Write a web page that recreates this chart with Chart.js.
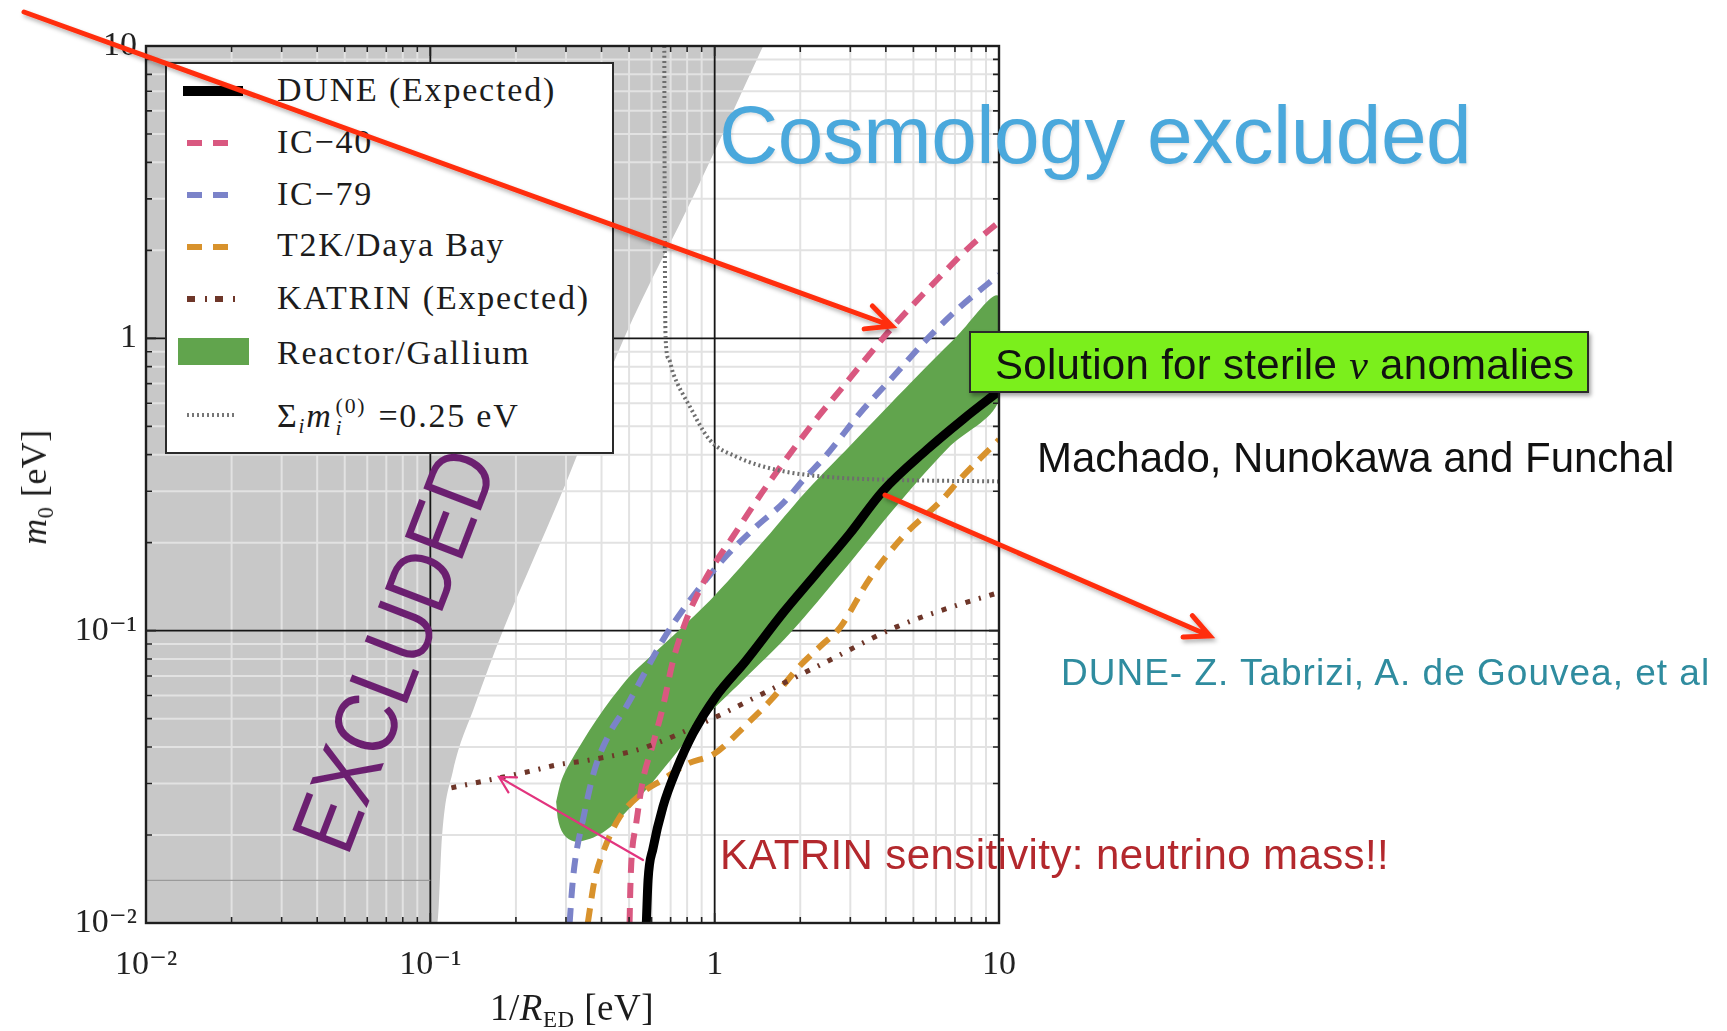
<!DOCTYPE html>
<html>
<head>
<meta charset="utf-8">
<title>Sterile neutrino / extra-dimension sensitivity</title>
<script src="https://cdn.jsdelivr.net/npm/chart.js@4.4.1/dist/chart.umd.min.js"></script>
<style>
  html, body { margin: 0; padding: 0; background: #fff; width: 1727px; height: 1031px; overflow: hidden; }
  #wrap { position: relative; width: 1727px; height: 1031px; }
  #plot { position: absolute; left: 0; top: 0; }
  .abs { position: absolute; white-space: nowrap; line-height: 1; }
  .serif { font-family: 'Liberation Serif', 'DejaVu Serif', serif; color: #1c1c1c; }
  .sans { font-family: 'Liberation Sans', Arial, Helvetica, sans-serif; }
  #legend { position: absolute; left: 165px; top: 62px; width: 449px; height: 392px; box-sizing: border-box;
            border: 2px solid #2a2a2a; background: #fff; }
  .lg { font-size: 34px; letter-spacing: 1.8px; left: 277px; }
  .ss { display: inline-block; vertical-align: -0.38em; font-size: 0.64em; line-height: 1; margin-left: 3px; margin-right: 12px; }
  .ss span { display: block; }
  sub { font-size: 0.62em; vertical-align: -0.3em; line-height: 0; }
  svg.layer { position: absolute; left: 0; top: 0; overflow: visible; }
</style>
</head>
<body>
<div id="wrap">
  <canvas id="plot" width="1727" height="1031"></canvas>

  <!-- legend -->
  <div id="legend"></div>
  <svg class="layer" width="1727" height="1031" id="legendMarks">
    <line x1="183" y1="91" x2="243" y2="91" stroke="#000" stroke-width="10"/>
    <line x1="187" y1="143" x2="230" y2="143" stroke="#d95880" stroke-width="6" stroke-dasharray="15 11"/>
    <line x1="187" y1="195" x2="230" y2="195" stroke="#7b83c9" stroke-width="6" stroke-dasharray="15 11"/>
    <line x1="187" y1="247" x2="230" y2="247" stroke="#d8922c" stroke-width="6" stroke-dasharray="15 11"/>
    <line x1="187" y1="299" x2="238" y2="299" stroke="#6e3629" stroke-width="6" stroke-dasharray="8 10 2 8"/>
    <rect x="178" y="338" width="71" height="27" fill="#61a44d"/>
    <line x1="187" y1="415" x2="237" y2="415" stroke="#777" stroke-width="4" stroke-dasharray="2 3"/>
  </svg>
  <div class="abs serif lg" style="top:73px">DUNE (Expected)</div>
  <div class="abs serif lg" style="top:125px">IC−40</div>
  <div class="abs serif lg" style="top:177px">IC−79</div>
  <div class="abs serif lg" style="top:228px">T2K/Daya Bay</div>
  <div class="abs serif lg" style="top:281px">KATRIN (Expected)</div>
  <div class="abs serif lg" style="top:336px">Reactor/Gallium</div>
  <div class="abs serif lg" style="top:396px">Σ<sub><i>i</i></sub><i>m</i><span class="ss"><span>(0)</span><span><i>i</i></span></span>=0.25 eV</div>

  <!-- axis titles -->
  <div class="abs serif" style="font-size:37px; letter-spacing:0.5px; left:572px; top:989px; transform:translateX(-50%);">1/<i>R</i><sub>ED</sub> [eV]</div>
  <div class="abs serif" style="font-size:36px; letter-spacing:0.5px; left:34px; top:487px; transform:translate(-50%,-50%) rotate(-90deg);"><i>m</i><sub>0</sub> [eV]</div>

  <!-- annotations -->
  <div class="abs sans" style="left:719px; top:94px; font-size:82px; letter-spacing:-0.5px; color:#4aa8dc; text-shadow:1px 2px 3px rgba(0,0,0,0.12);">Cosmology excluded</div>
  <div class="abs" style="left:969px; top:331px; width:620px; height:62px; box-sizing:border-box; background:#7bef1c; border:2px solid #2a2a2a; box-shadow:2px 3px 4px rgba(0,0,0,0.35);"></div>
  <div class="abs sans" style="left:995px; top:344px; font-size:42px; color:#111; letter-spacing:0.3px;">Solution for sterile <i style="font-family:'Liberation Serif',serif;">ν</i> anomalies</div>
  <div class="abs sans" style="left:1037px; top:437px; font-size:42px; color:#111;">Machado, Nunokawa and Funchal</div>
  <div class="abs sans" style="left:1061px; top:654px; font-size:37px; letter-spacing:1px; color:#2f8c9f;">DUNE- Z. Tabrizi, A. de Gouvea, et al</div>
  <div class="abs sans" style="left:720px; top:834px; font-size:42px; letter-spacing:0.4px; color:#b3282d;">KATRIN sensitivity: neutrino mass!!</div>
  <div class="abs sans" style="left:394px; top:650px; font-size:86px; color:#6b1f70; transform:translate(-50%,-50%) rotate(-69deg) scale(0.9, 1.04);">EXCLUDED</div>

  <svg class="layer" width="1727" height="1031" id="arrows">
    <defs>
      <filter id="shadow" x="-10%" y="-10%" width="120%" height="120%">
        <feDropShadow dx="2" dy="3" stdDeviation="2" flood-color="#000" flood-opacity="0.3"/>
      </filter>
    </defs>
  </svg>
</div>

<script>
// ---------------- axis ticks ----------------
const xTickValues = [0.01, 0.1, 1, 10];
const xTickLabels = ['10⁻²', '10⁻¹', '1', '10'];
const yTickValues = [0.01, 0.1, 1, 10];
const yTickLabels = ['10⁻²', '10⁻¹', '1', '10'];

// ---------------- curves (1/R_ED [eV], m0 [eV]) ----------------
const duneX = [0.575, 0.583, 0.607, 0.658, 0.733, 0.84, 1.01, 1.29, 1.74, 2.28, 2.99, 3.9, 5.56, 7.5, 10];
const duneY = [0.01, 0.014, 0.018, 0.025, 0.0334, 0.0446, 0.0595, 0.079, 0.115, 0.157, 0.215, 0.30, 0.415, 0.53, 0.66];

const ic40X = [0.502, 0.505, 0.509, 0.53, 0.56, 0.607, 0.658, 0.714, 0.795, 0.886, 0.986, 1.16, 1.36, 1.55, 2.22, 2.83, 4.25, 6.37, 7.9, 10];
const ic40Y = [0.01, 0.013, 0.016, 0.022, 0.031, 0.041, 0.055, 0.079, 0.109, 0.138, 0.166, 0.21, 0.266, 0.32, 0.513, 0.684, 1.1, 1.67, 2.06, 2.5];

const ic79X = [0.309, 0.315, 0.322, 0.344, 0.378, 0.427, 0.489, 0.56, 0.658, 0.774, 1.07, 1.40, 1.74, 2.05, 2.47, 3.24, 4.25, 5.56, 7.29, 10];
const ic79Y = [0.01, 0.013, 0.016, 0.0225, 0.0334, 0.0446, 0.055, 0.070, 0.093, 0.118, 0.175, 0.227, 0.273, 0.328, 0.398, 0.554, 0.74, 0.99, 1.28, 1.65];

const t2kX = [0.358, 0.378, 0.41, 0.463, 0.56, 0.66, 0.80, 1.0, 1.3, 1.58, 2.0, 2.4, 2.75, 3.5, 4.6, 6.3, 7.3, 10];
const t2kY = [0.01, 0.014, 0.018, 0.023, 0.028, 0.031, 0.035, 0.038, 0.048, 0.058, 0.076, 0.09, 0.102, 0.15, 0.21, 0.28, 0.33, 0.45];

const katrinX = [0.1186, 0.14, 0.173, 0.223, 0.2775, 0.363, 0.476, 0.575, 0.96, 1.48, 2.41, 4.36, 6.9, 10];
const katrinY = [0.029, 0.030, 0.0313, 0.033, 0.0347, 0.0361, 0.038, 0.040, 0.0495, 0.061, 0.0773, 0.103, 0.121, 0.135];

const sumMassX = [0.665, 0.667, 0.672, 0.69, 0.714, 0.818, 0.961, 1.19, 1.65, 2.47, 4.25, 10];
const sumMassY = [10, 3, 1.0, 0.85, 0.76, 0.584, 0.449, 0.394, 0.355, 0.336, 0.328, 0.324];

// Reactor/Gallium allowed region: closed outline (upper edge left→right, lower edge right→left)
const bandX = [0.277, 0.29, 0.309, 0.3835, 0.489, 0.56, 0.714, 1.0, 1.5, 2.1, 3.0, 5.0, 7.0, 10,
               10, 6.6, 4.4, 2.83, 1.84, 1.26, 0.91, 0.714, 0.545, 0.416, 0.335, 0.30, 0.283, 0.277];
const bandY = [0.026, 0.031, 0.0352, 0.0495, 0.0678, 0.0773, 0.096, 0.132, 0.205, 0.30, 0.43, 0.72, 1.0, 1.39,
               0.615, 0.42, 0.27, 0.16, 0.098, 0.0678, 0.0495, 0.037, 0.027, 0.0208, 0.0190, 0.0197, 0.022, 0.026];

// excluded region: everything above/left of this boundary
const exclX = [0.01, 0.106, 0.11, 0.12, 0.143, 0.18, 0.22, 0.30, 0.48, 0.86, 1.48];
const exclY = [0.01, 0.01, 0.02, 0.033, 0.055, 0.1, 0.158, 0.32, 1.0, 3.2, 10];

// faint line inside the excluded region
const shelfX = [0.01, 0.1];
const shelfY = [0.014, 0.014];

const pts = (xs, ys) => xs.map((x, i) => ({ x, y: ys[i] }));
const minorOf = (ticks) => {
  const out = [];
  for (let k = 0; k < ticks.length - 1; k++) for (let f = 2; f <= 9; f++) out.push(ticks[k] * f);
  return out;
};
const xMinor = minorOf(xTickValues);
const yMinor = minorOf(yTickValues);

const base = { showLine: true, pointRadius: 0, pointHoverRadius: 0, clip: 0, fill: false };
const dashed = [15, 10];

const datasets = [
  { ...base, label: 'DUNE (Expected)', data: pts(duneX, duneY), borderColor: '#000', borderWidth: 9,
    cubicInterpolationMode: 'monotone', borderCapStyle: 'butt' },
  { ...base, label: 'Σ m = 0.25 eV', data: pts(sumMassX, sumMassY), borderColor: '#6e6e6e', borderWidth: 4,
    borderDash: [2, 3], cubicInterpolationMode: 'monotone' },
  { ...base, label: 'KATRIN (Expected)', data: pts(katrinX, katrinY), borderColor: '#6e3629', borderWidth: 5,
    borderDash: [5, 9, 2, 9], cubicInterpolationMode: 'monotone' },
  { ...base, label: 'IC−40', data: pts(ic40X, ic40Y), borderColor: '#d95880', borderWidth: 6,
    borderDash: dashed, cubicInterpolationMode: 'monotone' },
  { ...base, label: 'IC−79', data: pts(ic79X, ic79Y), borderColor: '#7b83c9', borderWidth: 6,
    borderDash: dashed, cubicInterpolationMode: 'monotone' },
  { ...base, label: 'T2K/Daya Bay', data: pts(t2kX, t2kY), borderColor: '#d8922c', borderWidth: 6,
    borderDash: dashed, cubicInterpolationMode: 'monotone' },
  { ...base, label: 'Reactor/Gallium', data: pts(bandX, bandY), borderColor: 'transparent', borderWidth: 0,
    backgroundColor: '#61a44d', fill: 'shape', tension: 0.35 },
  { ...base, label: 'shelf', data: pts(shelfX, shelfY), borderColor: '#9a9a9a', borderWidth: 1.3 },
  { ...base, label: 'Excluded', data: pts(exclX, exclY), borderColor: 'transparent', borderWidth: 0,
    backgroundColor: '#c8c8c8', fill: 'end', cubicInterpolationMode: 'monotone' }
];
const excludedIndex = datasets.length - 1;

// grid goes on top of the grey excluded area but below every other layer;
// frame and inward tick marks are drawn last
const logFrame = {
  id: 'logFrame',
  afterDatasetDraw(chart, args) {
    if (args.index !== excludedIndex) return;
    const { ctx, chartArea: a, scales: { x, y } } = chart;
    ctx.save();
    ctx.beginPath();
    ctx.rect(a.left, a.top, a.right - a.left, a.bottom - a.top);
    ctx.clip();
    const vline = (p) => { ctx.beginPath(); ctx.moveTo(p, a.top); ctx.lineTo(p, a.bottom); ctx.stroke(); };
    const hline = (p) => { ctx.beginPath(); ctx.moveTo(a.left, p); ctx.lineTo(a.right, p); ctx.stroke(); };
    ctx.strokeStyle = '#e2e2e2';
    ctx.lineWidth = 2;
    xMinor.forEach(v => vline(x.getPixelForValue(v)));
    yMinor.forEach(v => hline(y.getPixelForValue(v)));
    ctx.strokeStyle = '#161616';
    ctx.lineWidth = 1.8;
    xTickValues.forEach(v => vline(x.getPixelForValue(v)));
    yTickValues.forEach(v => hline(y.getPixelForValue(v)));
    ctx.restore();
  },
  afterDatasetsDraw(chart) {
    const { ctx, chartArea: a, scales: { x, y } } = chart;
    ctx.save();
    ctx.strokeStyle = '#222';
    ctx.lineWidth = 1.6;
    const tickX = (v, len) => {
      const p = x.getPixelForValue(v);
      ctx.beginPath(); ctx.moveTo(p, a.bottom); ctx.lineTo(p, a.bottom - len);
      ctx.moveTo(p, a.top); ctx.lineTo(p, a.top + len); ctx.stroke();
    };
    const tickY = (v, len) => {
      const p = y.getPixelForValue(v);
      ctx.beginPath(); ctx.moveTo(a.left, p); ctx.lineTo(a.left + len, p);
      ctx.moveTo(a.right, p); ctx.lineTo(a.right - len, p); ctx.stroke();
    };
    xMinor.forEach(v => tickX(v, 6));
    yMinor.forEach(v => tickY(v, 6));
    xTickValues.forEach(v => tickX(v, 10));
    yTickValues.forEach(v => tickY(v, 10));
    ctx.lineWidth = 2.4;
    ctx.strokeStyle = '#1e1e1e';
    ctx.strokeRect(a.left, a.top, a.right - a.left, a.bottom - a.top);
    ctx.restore();
  }
};

Chart.defaults.font.family = "'Liberation Serif', 'DejaVu Serif', serif";

new Chart(document.getElementById('plot'), {
  type: 'scatter',
  data: { datasets },
  plugins: [logFrame],
  options: {
    responsive: false,
    animation: false,
    events: [],
    layout: { padding: { left: 0, top: 46, right: 728, bottom: 0 } },
    plugins: { legend: { display: false }, tooltip: { enabled: false }, title: { display: false } },
    scales: {
      x: {
        type: 'logarithmic', min: 0.01, max: 10,
        grid: { display: false, drawTicks: false },
        border: { display: false },
        afterBuildTicks: (s) => { s.ticks = xTickValues.map(v => ({ value: v })); },
        afterFit: (s) => { s.height = 108; },
        ticks: { autoSkip: false, maxRotation: 0, padding: 22, color: '#222', font: { size: 34 },
                 callback: (v, i) => xTickLabels[i] }
      },
      y: {
        type: 'logarithmic', min: 0.01, max: 10,
        grid: { display: false, drawTicks: false },
        border: { display: false },
        afterBuildTicks: (s) => { s.ticks = yTickValues.map(v => ({ value: v })); },
        afterFit: (s) => { s.width = 146; },
        ticks: { autoSkip: false, padding: 9, color: '#222', font: { size: 34 },
                 callback: (v, i) => yTickLabels[i] }
      }
    }
  }
});

// annotation arrows
(function () {
  const svg = document.getElementById('arrows');
  const NS = 'http://www.w3.org/2000/svg';
  function arrow(x1, y1, x2, y2, color, width, head, spread, shadow) {
    const g = document.createElementNS(NS, 'g');
    if (shadow) g.setAttribute('filter', 'url(#shadow)');
    const ang = Math.atan2(y1 - y2, x1 - x2);
    const a1 = ang + spread, a2 = ang - spread;
    const d = `M${x1},${y1} L${x2},${y2} M${x2 + head * Math.cos(a1)},${y2 + head * Math.sin(a1)} L${x2},${y2} L${x2 + head * Math.cos(a2)},${y2 + head * Math.sin(a2)}`;
    const p = document.createElementNS(NS, 'path');
    p.setAttribute('d', d);
    p.setAttribute('fill', 'none');
    p.setAttribute('stroke', color);
    p.setAttribute('stroke-width', width);
    p.setAttribute('stroke-linecap', 'round');
    p.setAttribute('stroke-linejoin', 'miter');
    g.appendChild(p);
    svg.appendChild(g);
  }
  arrow(24, 12, 892, 326, '#ff2d0d', 5, 28, 0.45, true);
  arrow(885, 495, 1210, 636, '#ff2d0d', 5, 27, 0.45, true);
  arrow(643, 860, 499, 777, '#e2347e', 2.2, 18, 0.5, false);
})();
</script>
</body>
</html>
